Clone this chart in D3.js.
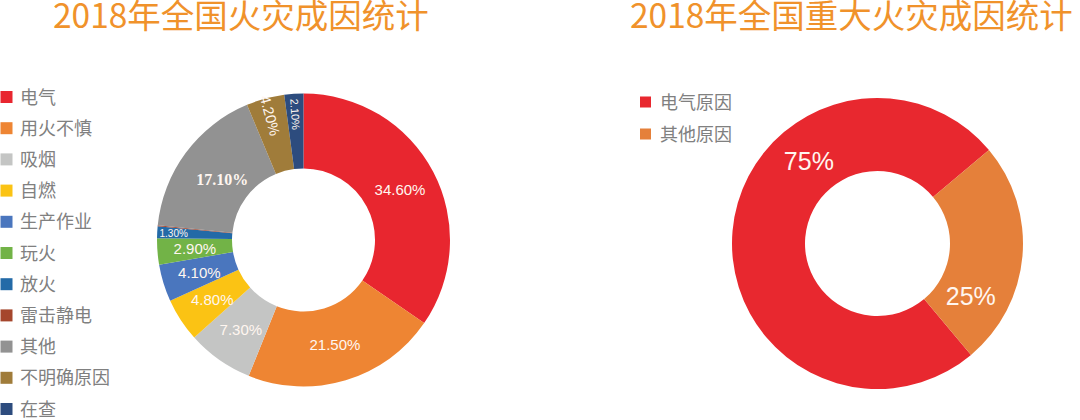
<!DOCTYPE html>
<html>
<head>
<meta charset="utf-8">
<script src="https://cdn.jsdelivr.net/npm/d3@7/dist/d3.min.js"></script>
<style>
  html, body { margin: 0; padding: 0; background: #fff; }
  svg { display: block; }
</style>
</head>
<body>
<svg id="chart" width="1080" height="420"></svg>
<script>
// ---- data ----
const titles = ["2018年全国火灾成因统计", "2018年全国重大火灾成因统计"];

const causes = ["电气", "用火不慎", "吸烟", "自燃", "生产作业", "玩火", "放火", "雷击静电", "其他", "不明确原因", "在查"];
const causeValues = [34.6, 21.5, 7.3, 4.8, 4.1, 2.9, 1.3, 0.1, 17.1, 4.2, 2.1];
const causeLabels = ["34.60%", "21.50%", "7.30%", "4.80%", "4.10%", "2.90%", "1.30%", "", "17.10%", "4.20%", "2.10%"];

const majorCauses = ["电气原因", "其他原因"];
const majorValues = [75, 25];
const majorLabels = ["75%", "25%"];

// ---- styles ----
const causeColors = ["#E8262F", "#EE8533", "#C4C5C4", "#FBC314", "#4A76BE", "#72B347", "#236AA7", "#A5462C", "#929292", "#A07C3A", "#2D4C7E"];
const majorColors = ["#E8282F", "#E5803A"];
const labelStyle = {
  "放火": { size: 10, r: 130 },
  "其他": { size: 16, serif: true, r: 101 },
  "不明确原因": { size: 14.5, rotate: true, r: 129 },
  "在查": { size: 11, rotate: true, r: 126 }
};
const majorLabelFrac = { "电气原因": 0.667, "其他原因": 0.77 };

const svg = d3.select("#chart");
const CJK = "'Noto Sans CJK SC', 'Noto Sans', sans-serif";
const LAT = "'Liberation Sans', Arial, sans-serif";

// titles
svg.append("text").attr("x", 53).attr("y", 28).text(titles[0])
  .attr("font-family", CJK).attr("font-size", 33.5).attr("fill", "#F0922B");
svg.append("text").attr("x", 630).attr("y", 28).text(titles[1])
  .attr("font-family", CJK).attr("font-size", 33.5).attr("fill", "#F0922B");

// ---- chart 1 ----
const c1 = { x: 303.5, y: 240, ro: 146.5, ri: 71.5 };
const color1 = d3.scaleOrdinal().domain(causes).range(causeColors);
const pie1 = d3.pie().sort(null).value(d => d.v);
const data1 = causes.map((c, i) => ({ name: c, v: causeValues[i], label: causeLabels[i] }));
const arcs1 = pie1(data1);
const arc1 = d3.arc().innerRadius(c1.ri).outerRadius(c1.ro);
const g1 = svg.append("g").attr("transform", `translate(${c1.x},${c1.y})`);
g1.selectAll("path").data(arcs1).join("path")
  .attr("d", arc1).attr("fill", d => color1(d.data.name));

arcs1.forEach(d => {
  if (!d.data.label) return;
  const st = labelStyle[d.data.name] || {};
  const r = st.r || (c1.ri + c1.ro) / 2;
  const a = (d.startAngle + d.endAngle) / 2;
  const x = r * Math.sin(a), y = -r * Math.cos(a);
  g1.append("text")
    .attr("transform", `translate(${x},${y})` + (st.rotate ? ` rotate(${a * 180 / Math.PI - 270})` : ""))
    .attr("text-anchor", "middle").attr("dominant-baseline", "central")
    .attr("font-size", st.size || 15)
    .attr("font-family", st.serif ? "'Liberation Serif', 'Times New Roman', serif" : LAT)
    .attr("font-weight", st.serif ? "bold" : "normal")
    .attr("fill", "#FFF6F0")
    .text(d.data.label);
});

// legend 1
const leg1 = svg.append("g");
const ly1 = d3.scalePoint().domain(causes).range([97, 409]);
causes.forEach(c => {
  leg1.append("rect").attr("x", 0.5).attr("y", ly1(c) - 6).attr("width", 12).attr("height", 12).attr("fill", color1(c));
  leg1.append("text").attr("x", 20).attr("y", ly1(c) + 6.5).text(c)
    .attr("font-family", CJK).attr("font-size", 18).attr("fill", "#808080");
});

// ---- chart 2 ----
const c2 = { x: 877.5, y: 243.5, ro: 145.5, ri: 72.5 };
const color2 = d3.scaleOrdinal().domain(majorCauses).range(majorColors);
const start2 = 140 * Math.PI / 180;
const pie2 = d3.pie().sort(null).value(d => d.v).startAngle(start2).endAngle(start2 + 2 * Math.PI);
const data2 = majorCauses.map((c, i) => ({ name: c, v: majorValues[i], label: majorLabels[i] }));
const arcs2 = pie2(data2);
const arc2 = d3.arc().innerRadius(c2.ri).outerRadius(c2.ro);
const g2 = svg.append("g").attr("transform", `translate(${c2.x},${c2.y})`);
g2.selectAll("path").data(arcs2).join("path")
  .attr("d", arc2).attr("fill", d => color2(d.data.name));
arcs2.forEach(d => {
  const f = majorLabelFrac[d.data.name];
  const a = d.startAngle + f * (d.endAngle - d.startAngle);
  const r = 107;
  g2.append("text")
    .attr("x", r * Math.sin(a)).attr("y", -r * Math.cos(a))
    .attr("text-anchor", "middle").attr("dominant-baseline", "central")
    .attr("font-family", LAT).attr("font-size", 25).attr("fill", "#FFF6F0")
    .text(d.data.label);
});

// legend 2
const leg2 = svg.append("g");
const ly2 = d3.scalePoint().domain(majorCauses).range([102, 134]);
majorCauses.forEach(c => {
  leg2.append("rect").attr("x", 640).attr("y", ly2(c) - 5.5).attr("width", 11).attr("height", 11).attr("fill", color2(c));
  leg2.append("text").attr("x", 660).attr("y", ly2(c) + 6.5).text(c)
    .attr("font-family", CJK).attr("font-size", 18).attr("fill", "#808080");
});
</script>
</body>
</html>
